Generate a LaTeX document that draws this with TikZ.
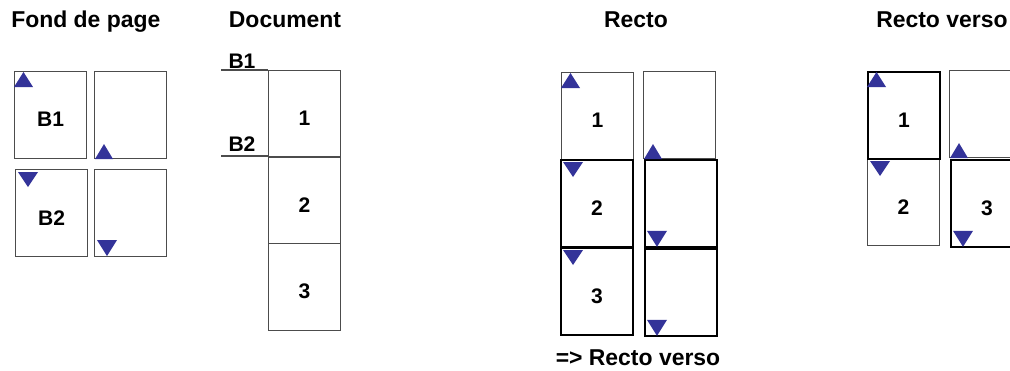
\documentclass[tikz,border=0pt]{standalone}
\usepackage{fontspec}
\setmainfont{Liberation Sans}
\usetikzlibrary{positioning}
\definecolor{markblue}{RGB}{51,51,153}
\tikzset{
  page/.style={draw=black!70, line width=0.8pt, anchor=north west,
    minimum width=54pt, minimum height=65.25pt, inner sep=0pt},
  pagebold/.style={page, draw=black, line width=1.4pt},
  sign/.style={fill=markblue},
  heading/.style={font=\bfseries\fontsize{17.2}{20}\selectfont, inner sep=0pt},
  bandtext/.style={font=\bfseries\fontsize{15.8}{18}\selectfont, inner sep=0pt},
  pagetext/.style={bandtext, yshift=-3.5pt}
}
% blue triangles, placed on a page corner
\newcommand{\uptop}[1]{\fill[sign, shift={(#1.north west)}] (0,16) -- (19,16) -- (9.5,1) -- cycle;}
\newcommand{\upbottom}[1]{\fill[sign, shift={(#1.south west)}] (1,0) -- (19,0) -- (10,-15) -- cycle;}
\newcommand{\downtop}[1]{\fill[sign, shift={(#1.north west)}] (3,3) -- (23,3) -- (13,18) -- cycle;}
\newcommand{\downbottom}[1]{\fill[sign, shift={(#1.south west)}] (3,-17) -- (23,-17) -- (13,-1) -- cycle;}
\begin{document}
\begin{tikzpicture}[x=0.75pt, y=-0.75pt]
\useasboundingbox (0,0) rectangle (1010,371);

% titles
\node[heading, anchor=base west] (fondtitle) at (11,27) {Fond de page};
\node[heading, anchor=base] (doctitle) at (285,27) {Document};
\node[heading, anchor=base] (rectotitle) at (636,27) {Recto};
\node[heading, anchor=base west] (versotitle) at (876,27) {Recto verso};

% fond de page
\node[page, label={[pagetext]center:B1}] (fb1) at (14,71) {};
\node[page] (fr1) at (94,71) {};
\node[page, label={[pagetext]center:B2}] (fb2) at (15,169) {};
\node[page] (fr2) at (94,169) {};
\uptop{fb1}
\upbottom{fr1}
\downtop{fb2}
\downbottom{fr2}

% document
\node[page, label={[pagetext]center:1}] (d1) at (268,70) {};
\node[page, label={[pagetext]center:2}] (d2) at (268,156) {};
\node[page, label={[pagetext]center:3}] (d3) at (268,243) {};
\coordinate (b1start) at (221,70);
\coordinate (b2start) at (221,156);
\draw[black!70, line width=0.8pt] (b1start) -- (d1.north west);
\draw[black!70, line width=0.8pt] (b2start) -- (d2.north west);
\node[bandtext] (b1text) at (242,61) {B1};
\node[bandtext] (b2text) at (242,144) {B2};

% recto
\node[page, label={[pagetext]center:1}] (r1) at (561,72) {};
\node[page] (rv1) at (643,71) {};
\node[pagebold, label={[pagetext]center:2}] (r2) at (560,159) {};
\node[pagebold, label={[pagetext]center:3}] (r3) at (560,247) {};
\node[pagebold] (rv2) at (644,159) {};
\node[pagebold] (rv3) at (644,248) {};
\uptop{r1}
\downtop{r2}
\downtop{r3}
\upbottom{rv1}
\downbottom{rv2}
\downbottom{rv3}
\node[heading, anchor=base] (rectonote) at (638,365) {=> Recto verso};

% recto verso
\node[page, label={[pagetext]center:2}] (v2) at (867,158) {};
\node[page] (vr1) at (949,70) {};
\node[pagebold, label={[pagetext]center:1}] (v1) at (867,71) {};
\node[pagebold, label={[pagetext]center:3}] (vr2) at (950,159) {};
\uptop{v1}
\downtop{v2}
\upbottom{vr1}
\downbottom{vr2}

\end{tikzpicture}
\end{document}
